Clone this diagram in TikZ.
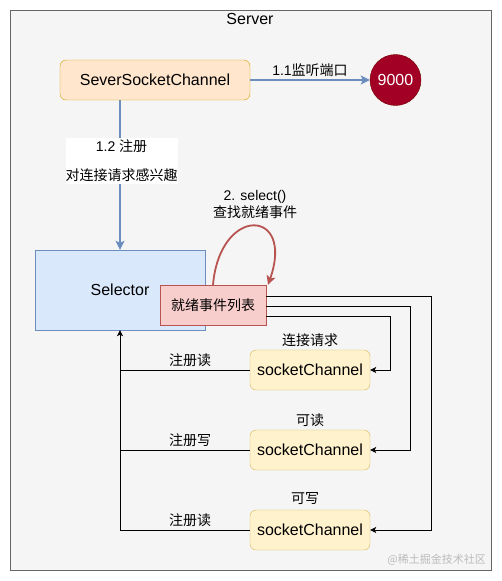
\documentclass[tikz,border=0pt]{standalone}
\usepackage{fontspec}
\setmainfont{Liberation Sans}
\newfontfamily\cjk{Noto Sans CJK SC}
\usetikzlibrary{arrows.meta,positioning}
\definecolor{frameF}{HTML}{F5F5F5}
\definecolor{frameD}{HTML}{666666}
\definecolor{orF}{HTML}{FFE6CC}
\definecolor{orD}{HTML}{D79B00}
\definecolor{portF}{HTML}{A20025}
\definecolor{portD}{HTML}{6F0000}
\definecolor{blF}{HTML}{DAE8FC}
\definecolor{blD}{HTML}{6C8EBF}
\definecolor{rdF}{HTML}{F8CECC}
\definecolor{rdD}{HTML}{B85450}
\definecolor{ylF}{HTML}{FFF2CC}
\definecolor{ylD}{HTML}{D6B656}
\definecolor{wmark}{HTML}{BBBBBB}
\tikzset{
  big/.style={font=\fontsize{16}{19}\selectfont},
  lbl/.style={font=\fontsize{14}{17}\selectfont, inner sep=1pt},
  scbox/.style={draw=ylD, fill=ylF, rounded corners=6pt, minimum width=120pt, minimum height=40pt, big, inner sep=0pt},
  bluearrow/.style={draw=blD, line width=1.8pt, -{Stealth[length=9pt,width=9pt,inset=2pt]}},
  blk/.style={draw=black, line width=0.8pt, -{Stealth[length=6pt,width=6pt,inset=1.5pt]}},
  blkline/.style={draw=black, line width=0.8pt},
}
\begin{document}
\begin{tikzpicture}[x=1pt,y=-1pt]
\useasboundingbox (0,0) rectangle (501,581);
\fill[white] (0,0) rectangle (501,581);
\node[draw=frameD, fill=frameF, line width=1pt, minimum width=481pt, minimum height=560pt, inner sep=0pt] (frame) at (250.5,290) {};
\node[big] (server) at (250,19) {Server};
\node[draw=orD, fill=orF, rounded corners=6pt, minimum width=190pt, minimum height=40pt, big, inner sep=0pt] (ssc) at (155,80) {SeverSocketChannel};
\node[circle, draw=portD, fill=portF, minimum size=51pt, inner sep=0pt, text=white, big] (port) at (395.5,80) {9000};
\node[draw=blD, fill=blF, minimum width=170pt, minimum height=80pt, inner sep=0pt, big] (sel) at (120,290) {Selector};
\node[draw=rdD, fill=rdF, minimum width=106pt, minimum height=40pt, inner sep=0pt, font=\fontsize{14}{17}\selectfont\cjk] (list) at (213,305) {就绪事件列表};
\node[scbox] (sc1) at (310,370) {socketChannel};
\node[scbox] (sc2) at (310,450) {socketChannel};
\node[scbox] (sc3) at (310,530) {socketChannel};

\draw[bluearrow] (ssc.east) -- (port.west);
\node[lbl] (l11) at (310,70) {1.1{\cjk 监听端口}};

\draw[bluearrow] (sel.north |- ssc.south) -- (sel.north);
\node[lbl, fill=white, minimum width=111pt, minimum height=46pt, align=center, inner sep=0pt] (l12) at (121.5,161) {1.2 {\cjk 注册}\\[12pt]{\cjk 对连接请求感兴趣}};

\draw[draw=rdD, line width=1.8pt, -{Stealth[length=9pt,width=9pt,inset=2pt]}] ([xshift=0pt]list.north) .. controls (220,205) and (295,208) .. ([xshift=55pt]list.north);
\node[lbl, align=center] (l2) at (255,205) {2. select()\\{\cjk 查找就绪事件}};

\draw[blk] ([yshift=9pt]list.east) -- ++(165,0) |- (sc3.east);
\draw[blk] ([yshift=-1pt]list.east) -- ++(144,0) |- (sc2.east);
\draw[blk] ([yshift=-11pt]list.east) -- ++(124,0) |- (sc1.east);

\draw[blk] (sc3.west) -| (sel.south);
\draw[blkline] (sc2.west) -- (sel.south |- sc2.west);
\draw[blkline] (sc1.west) -- (sel.south |- sc1.west);

\node[lbl, font=\fontsize{14}{17}\selectfont\cjk] (c1) at (310,340) {连接请求};
\node[lbl, font=\fontsize{14}{17}\selectfont\cjk] (c2) at (310,420) {可读};
\node[lbl, font=\fontsize{14}{17}\selectfont\cjk] (c3) at (305,499) {可写};
\node[lbl, font=\fontsize{14}{17}\selectfont\cjk] (r1) at (190,360) {注册读};
\node[lbl, font=\fontsize{14}{17}\selectfont\cjk] (r2) at (190,440) {注册写};
\node[lbl, font=\fontsize{14}{17}\selectfont\cjk] (r3) at (190,520) {注册读};

\node[anchor=east, text=wmark, font=\fontsize{11}{13}\selectfont\cjk, inner sep=0pt] (wm) at (486,560) {@稀土掘金技术社区};
\end{tikzpicture}
\end{document}
